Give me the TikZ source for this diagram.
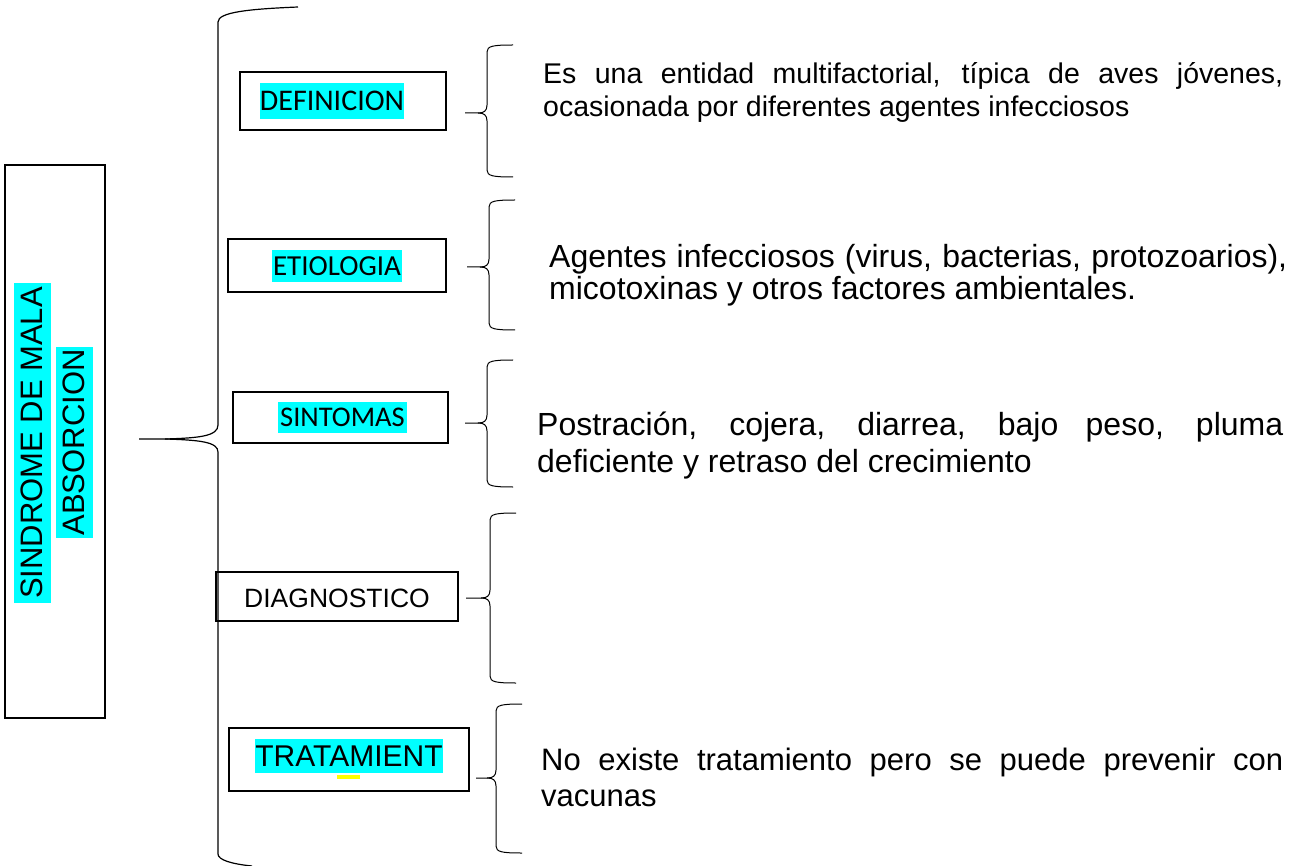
\documentclass[tikz,border=0pt]{standalone}
\usepackage{fontspec}
\setmainfont{Liberation Sans}
\newfontfamily\calibri{Carlito}
\usetikzlibrary{positioning}
\definecolor{resalte}{RGB}{0,255,255}
\definecolor{marcador}{RGB}{255,255,0}
\hyphenpenalty=10000
\exhyphenpenalty=10000
\tikzset{
    caja/.style={draw, line width=1.3pt, inner sep=0pt},
    resaltado/.style={fill=resalte, inner sep=0pt},
    llavefina/.style={line width=1pt},
    llavegrande/.style={line width=1.2pt},
    texto/.style={anchor=west, inner sep=0pt, align=justify}
}
% llave pequena: #1 x vertical, #2 arriba, #3 punta, #4 abajo, #5 inicio del trazo
\newcommand{\llave}[5]{
    \draw[llavefina] (#1+26,#2) .. controls (#1+6,#2) and (#1,#2+1) .. (#1,#2+7)
        -- (#1,#3-8) .. controls (#1,#3-2) and (#1-3,#3) .. (#1-9,#3) -- (#5,#3);
    \draw[llavefina] (#1-9,#3) .. controls (#1-3,#3) and (#1,#3+2) .. (#1,#3+8)
        -- (#1,#4-7) .. controls (#1,#4-1) and (#1+6,#4) .. (#1+26,#4);
}

\begin{document}
\begin{tikzpicture}[x=1pt,y=-1pt]
    \useasboundingbox (0,0) rectangle (1290,866);
    % titulo
    \node[caja, minimum width=100pt, minimum height=553pt] (marco) at (55,441.5) {};
    \node[resaltado, rotate=90, minimum width=320pt, minimum height=37pt, font=\fontsize{31}{36}\selectfont] (tit1) at (32,443) {SINDROME DE MALA};
    \node[resaltado, rotate=90, minimum width=191pt, minimum height=37pt, font=\fontsize{31}{36}\selectfont] (tit2) at (74,442.5) {ABSORCION};
    % llave grande
    \draw[llavegrande] (298,7) .. controls (250,9) and (218,12) .. (218,22)
        -- (218,425) .. controls (218,436) and (200,438) .. (165,439) -- (139,439);
    \draw[llavegrande] (165,439) .. controls (200,440) and (218,442) .. (218,452)
        -- (218,854) .. controls (218,860) and (232,864) .. (252,866);
    % cajas
    \node[caja, minimum width=206pt, minimum height=58pt] (def) at (343,101) {};
    \node[resaltado, minimum width=142pt, minimum height=36pt, font=\calibri\fontsize{30}{35}\selectfont] (deft) at (332,101) {DEFINICION};
    \node[caja, minimum width=218pt, minimum height=53pt] (eti) at (337,265.5) {};
    \node[resaltado, minimum width=130pt, minimum height=32pt, font=\calibri\fontsize{29}{32}\selectfont] (etit) at (337,266) {ETIOLOGIA};
    \node[caja, minimum width=215pt, minimum height=51pt] (sin) at (340.5,417.5) {};
    \node[resaltado, minimum width=129pt, minimum height=31pt, font=\calibri\fontsize{28.5}{31}\selectfont] (sint) at (342.5,417.5) {SINTOMAS};
    \node[caja, minimum width=242pt, minimum height=49pt] (dia) at (337,596.5) {};
    \node[inner sep=0pt, font=\fontsize{26.5}{30}\selectfont] (diat) at (337,598) {DIAGNOSTICO};
    \node[caja, minimum width=240pt, minimum height=63pt] (tra) at (349,759.5) {};
    \node[resaltado, minimum width=188pt, minimum height=34pt, font=\fontsize{30}{34}\selectfont] (trat) at (349,756) {TRATAMIENT};
    \node[fill=marcador, inner sep=0pt, minimum width=23pt, minimum height=4pt] (marca) at (348.5,777) {};
    % llaves pequenas
    \llave{487}{45}{113}{177}{465}
    \llave{489}{200}{267}{330}{467}
    \llave{487}{360}{423}{487}{465}
    \llave{490}{513}{598}{683}{466}
    \llave{496}{704}{778}{853}{476}
    % textos
    \node[texto, text width=740pt, font=\fontsize{28.5}{33}\selectfont] (defx) at (543,92)
        {Es una entidad multifactorial, típica de aves jóvenes, ocasionada por diferentes agentes infecciosos};
    \node[texto, text width=738pt, font=\fontsize{32}{32}\selectfont] (etix) at (549,275)
        {Agentes infecciosos (virus, bacterias, protozoarios), micotoxinas y otros factores ambientales.};
    \node[texto, text width=746pt, font=\fontsize{32}{37}\selectfont] (sinx) at (537,446)
        {Postración, cojera, diarrea, bajo peso, pluma deficiente y retraso del crecimiento};
    \node[texto, text width=742pt, font=\fontsize{31}{36}\selectfont] (trax) at (541,777)
        {No existe tratamiento pero se puede prevenir con vacunas};
\end{tikzpicture}
\end{document}
